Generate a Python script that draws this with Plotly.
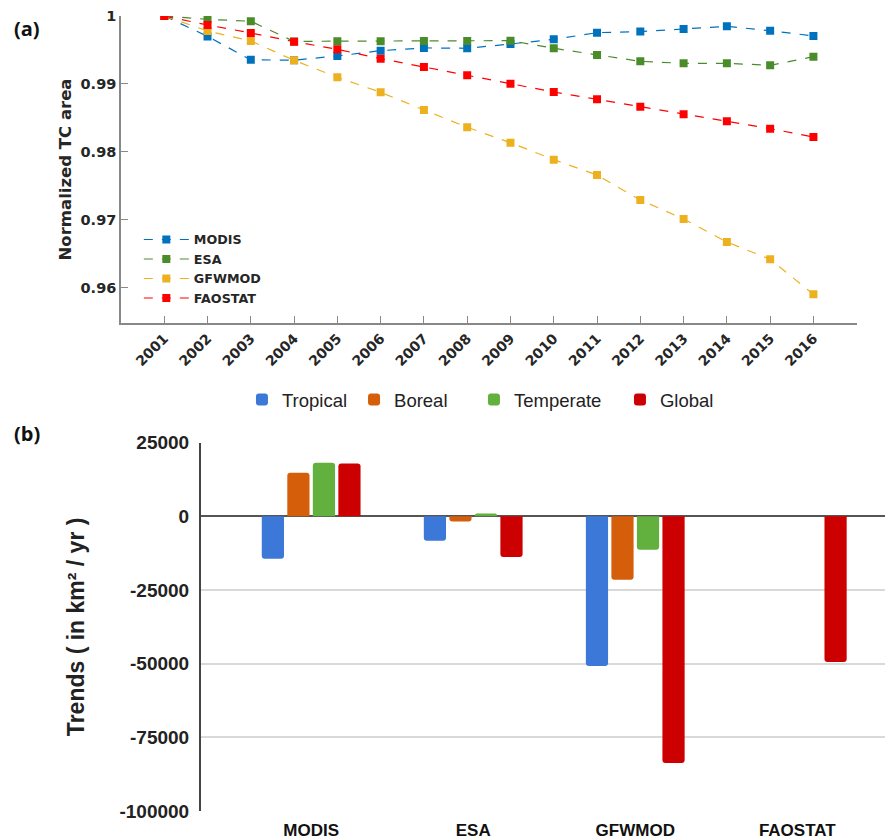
import plotly.graph_objects as go

years = list(range(2001, 2017))
modis = [1.0, 0.9970, 0.99355, 0.99350, 0.99412, 0.9949, 0.9953, 0.99525, 0.99588,
         0.99657, 0.99755, 0.9977, 0.99809, 0.99848, 0.99784, 0.99706]
esa = [1.0, 0.99951, 0.99922, 0.99625, 0.9963, 0.9963, 0.99632, 0.99632, 0.99637,
       0.99525, 0.99426, 0.99333, 0.99304, 0.99304, 0.99275, 0.99402]
gfwmod = [1.0, 0.9978, 0.99632, 0.99348, 0.99098, 0.98878, 0.98618, 0.98363, 0.98137,
          0.97887, 0.97662, 0.97294, 0.97015, 0.96676, 0.96422, 0.95907]
faostat = [1.0, 0.99868, 0.9975, 0.99622, 0.9951, 0.99372, 0.9925, 0.99128, 0.99005,
           0.98882, 0.98775, 0.98666, 0.98554, 0.98451, 0.98343, 0.98221]

products = ["MODIS", "ESA", "GFWMOD", "FAOSTAT"]
tropical = [-14400, -8300, -50800, None]
boreal = [14800, -1700, -21500, None]
temperate = [18200, 1000, -11300, None]
global_ = [17900, -13800, -83700, -49400]

trend_ticks = [25000, 0, -25000, -50000, -75000, -100000]
trend_labels = ["25000", "0", "-25000", "-50000", "-75000", "-100000"]

fig = go.Figure()

line_series = [("MODIS", modis, "#0072BD"), ("ESA", esa, "#4a8c2a"),
               ("GFWMOD", gfwmod, "#EDB120"), ("FAOSTAT", faostat, "#FF0000")]
for name, vals, col in line_series:
    fig.add_trace(go.Scatter(
        x=years, y=vals, name=name, mode="lines+markers",
        line=dict(color=col, width=1.2, dash="dash"),
        marker=dict(symbol="square", size=8, color=col),
        xaxis="x", yaxis="y", legend="legend"))

bar_series = [("Tropical", tropical, "#3c78d8", "legend2"), ("Boreal", boreal, "#d55e0b", "legend3"),
              ("Temperate", temperate, "#62b03e", "legend4"), ("Global", global_, "#cc0000", "legend5")]
for name, vals, col, lg in bar_series:
    fig.add_trace(go.Bar(
        x=products, y=vals, name=name, marker=dict(color=col, line=dict(width=0)),
        xaxis="x2", yaxis="y2", legend=lg))

dv = dict(family="DejaVu Sans", weight="bold", color="#262626")
ar = dict(family="Liberation Sans", weight="bold", color="#222222")

bar_legend_x = {"legend2": 0.262, "legend3": 0.3875, "legend4": 0.5218, "legend5": 0.6853}
bar_legends = {k: dict(orientation="h", x=v, y=0.5333, xanchor="left", yanchor="middle",
                       bgcolor="rgba(0,0,0,0)",
                       font=dict(size=18.5, family="Liberation Sans", color="#222222"))
               for k, v in bar_legend_x.items()}

fig.update_layout(
    width=893, height=840,
    margin=dict(l=0, r=0, t=0, b=0, autoexpand=False),
    paper_bgcolor="white", plot_bgcolor="white",
    barmode="group", bargap=0.37, bargroupgap=0.13, barcornerradius=3,
    xaxis=dict(domain=[0.1265, 0.9504], range=[2000, 2017], anchor="y", automargin=False,
               tickvals=years, tickangle=-45, ticks="inside", ticklen=7,
               tickcolor="#888888", showline=True, linecolor="#888888", linewidth=1.5,
               showgrid=False, zeroline=False, tickfont=dict(size=14, **dv)),
    yaxis=dict(domain=[0.625, 0.9905], range=[0.95485, 1.0], anchor="x", automargin=False,
               tick0=0.96, dtick=0.01, ticks="inside", ticklen=7, tickcolor="#888888",
               showline=True, linecolor="#888888", linewidth=1.5, showgrid=False,
               zeroline=False, tickfont=dict(size=14.5, **dv),
               title=dict(text="Normalized TC area", font=dict(size=16.5, **dv), standoff=5)),
    xaxis2=dict(domain=[0.2161, 1.0], range=[-0.68, 3.64], anchor="y2", automargin=False,
                showgrid=False, showline=False, zeroline=False, ticks="", ticklabelstandoff=7,
                tickfont=dict(size=17, family="Liberation Sans", weight="bold", color="#111111")),
    yaxis2=dict(domain=[0.044, 0.4825], range=[-100000, 25000], anchor="x2", automargin=False,
                tickvals=trend_ticks, ticktext=trend_labels, ticklabelstandoff=6,
                showgrid=True, gridcolor="#d9d9d9", gridwidth=1.5,
                zeroline=True, zerolinecolor="#555555", zerolinewidth=2,
                showline=True, linecolor="#444444", linewidth=2, ticks="",
                tickfont=dict(size=19, **ar),
                title=dict(text="Trends ( in km² / yr )", font=dict(size=23, family="Liberation Sans", weight="bold", color="#222222"), standoff=28)),
    legend=dict(x=0.1465, y=0.742, xanchor="left", yanchor="top", bgcolor="rgba(0,0,0,0)",
                font=dict(size=12.7, **dv), itemwidth=45, tracegroupgap=0),
    **bar_legends,
    annotations=[
        dict(text="(a)", x=0.005, y=0.976, xref="paper", yref="paper", xanchor="left",
             yanchor="middle", showarrow=False, font=dict(size=20, family="Open Sans", weight="bold", color="#111")),
        dict(text="(b)", x=0.005, y=0.494, xref="paper", yref="paper", xanchor="left",
             yanchor="middle", showarrow=False, font=dict(size=20, family="Open Sans", weight="bold", color="#111")),
    ],
)

fig.write_html("out.html")
